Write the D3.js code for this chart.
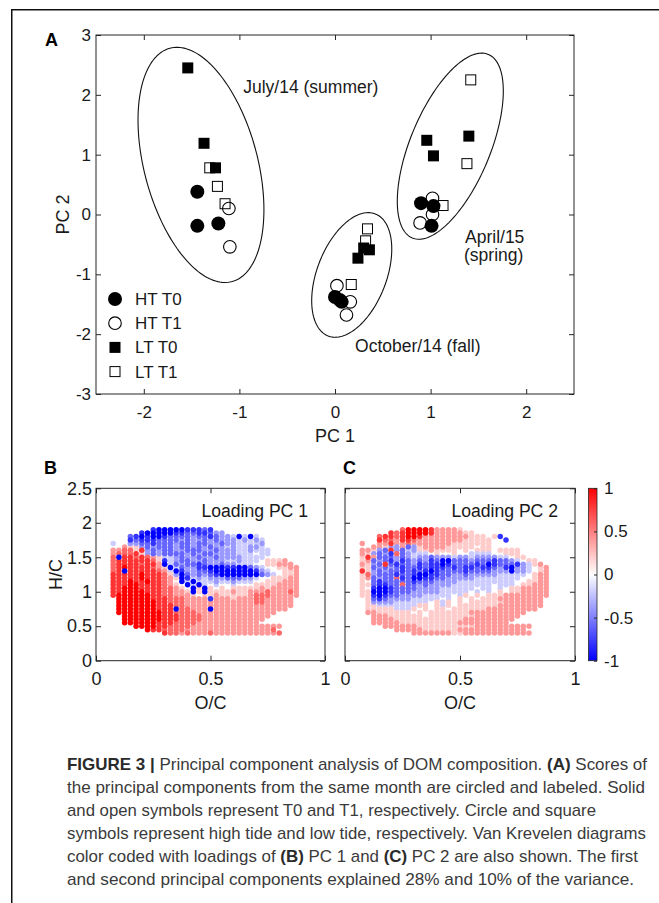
<!DOCTYPE html>
<html><head><meta charset="utf-8">
<script src="https://cdn.jsdelivr.net/npm/d3@7"></script>
<style>body{margin:0;background:#fff}svg{display:block}</style>
</head><body>
<svg id="fig" width="659" height="903"></svg>
<script>
// ---------------- DATA ----------------
// Panel A: PCA scores [PC1, PC2]
const htT0 = [[-1.44,0.38],[-1.44,-0.19],[-1.22,-0.15],[0.90,0.19],[1.03,0.14],[1.01,-0.19],[0.00,-1.38],[0.05,-1.43],[0.07,-1.46]];
const htT1 = [[-1.11,0.10],[-1.10,-0.54],[1.02,0.27],[1.02,0.00],[0.89,-0.14],[0.02,-1.19],[0.16,-1.46],[0.12,-1.68]];
const ltT0 = [[-1.54,2.45],[-1.37,1.19],[-1.25,0.78],[0.96,1.24],[1.03,0.98],[1.40,1.31],[0.36,-0.59],[0.30,-0.56],[0.24,-0.73]];
const ltT1 = [[-1.31,0.78],[-1.23,0.47],[-1.15,0.18],[1.42,2.25],[1.38,0.85],[1.13,0.15],[0.34,-0.24],[0.32,-0.44],[0.17,-1.17]];
const legendLabels = ["HT T0","HT T1","LT T0","LT T1"];
// month groups: centre and conjugate semi-diameters (data units)
const monthEllipses = [
  {label:["July/14 (summer)"], cx:-1.402, cy:0.829, ux:-0.3245, uy:1.950, vx:0.573, vy:0.2437},
  {label:["April/15","(spring)"], cx:1.206, cy:1.142, ux:0.3975, uy:1.534, vx:0.3866, vy:-0.256},
  {label:["October/14 (fall)"], cx:0.175, cy:-1.01, ux:0.2463, uy:1.020, vx:0.3387, vy:-0.2089}
];
const monthLabelPos = [[-0.96,2.03],[1.36,-0.47],[0.21,-2.30]];
const pcXTicks = [-2,-1,0,1,2];
const pcYTicks = [-3,-2,-1,0,1,2,3];

// Panels B, C: Van Krevelen grid (O/C columns, H/C rows), loadings
const ocCols = [0.05,0.075,0.1,0.125,0.15,0.175,0.2,0.225,0.25,0.275,0.3,0.325,0.35,0.375,0.4,0.425,0.45,0.475,0.5,0.525,0.55,0.575,0.6,0.625,0.65,0.675,0.7,0.725,0.75,0.775,0.8,0.825,0.85,0.875];
const hcRows = [1.9,1.85,1.8,1.75,1.7,1.65,1.6,1.55,1.5,1.45,1.4,1.35,1.3,1.25,1.2,1.15,1.1,1.05,1.0,0.95,0.9,0.85,0.8,0.75,0.7,0.65,0.6,0.55,0.5,0.45,0.4];
const loadingLevels = {a:-1,b:-0.8,c:-0.6,d:-0.4,e:-0.2,f:0,g:0.2,h:0.4,i:0.6,j:0.8,k:1};
const loadingPC1 = [
"........baaaaabbbcb...............",
"......baaaaabbccbbcdd.............",
"....cbabaabccccdccbcddeaeae.......",
"....bcbbbccccdcddcdcdddedede......",
".e..ddccbcccdccdccddcddeeeed......",
"...hggdcdcccdccdcdcddedeedde......",
".hhiigjdcdccddcccddcdddeedeee.....",
".hiiijgdcdccccdcdccddddeeefee.....",
".iajjijihgeedcddcddcddddeeeeff....",
".ijjjjjjigbedccddcdddeedeeefgggh..",
".ijjjjijjhaecdccbcddcddeeeffgghhh.",
".ijkjjjjihgaecddbbaaabbaacdeffgghh",
".ijajjjjjiheabddccbaaaaaaabdeffggh",
".jjjjjkjjjigdacdcdcbaaaaaaacdefggh",
".jjjjjkjjjihgabededddcccddeffggghh",
".jjjkjjkjjihfaeaeeedeedeeeffggghhh",
".jjjkkjjjjihgfaeaefeffefffgggghhhh",
".jjkkkjjjjiihgfagagfgfggggghghhhhh",
".jjkkkkjjjiihhgagagggghgghhhihhhih",
".jkkkkkkjjiihhhgfgghggggghiiihhhhh",
"..kkkkkkjjjiiihhhhbhhhghhhiihhhhh.",
"..kkkkkkkjjiiihhhhhhhhhhhhiihhhhh.",
"..kkkkkkkjjjiihhhhhhhhhhhhhhhhhhh.",
"..kkkkkkkjjjaiihhhahhhhhhhhhhhhh..",
"..kkkkkkkkjjiiiihhhhhhhhhhhhhh....",
"...kkkkkkkjjjiiiihhhhhhhhhhhh.....",
"...kkkkkkkjjjiiiihhhhhhhhhhh......",
"...kkkkkkjjjiiiihhhhhhhhhhh.......",
".....kkkkjjiiiihhhhhhhhhhhhhhhh...",
".......kjjiiiihhhhhhhhhhhhhhhi....",
"..........jiihihhhihhhhhhhhhhhi..."];
const loadingPC2 = [
"........ikkkkjhhhhg...............",
"......jijkkkkjhhhhhgg.............",
"....ijjijkkjhhhhhhhhgggfgbf.......",
"....jiihjjihhhhhhhhgggggffbf......",
".h..hhjhhihhhhhhhgggggggffff......",
"...hhgddhcdghhhhgggggfggffff......",
".hhgdcjdcedgghggggfgfgggfgggg.....",
".hgdcdbicdeeefgffgffeeeeffggg.....",
".gjhcccdcdeddcdddeddeddddeefgg....",
".ghcdcbdbcdcdbcaacccdcccbccdefgg..",
".hgdcjcbccdbcbbabccccbcabcccbdegh.",
".ggcdcdcbccbcbbbcbcbbcbbcdbaddefgh",
".jgdcdccbcbcbabccccbccccdddaddefgh",
".gidcccbccbaabbccddcdddddeeeeefghh",
".ghcdccibcaabbccdddddeeeeeeeeffghh",
".gfcbcccccbcccddddeeeeeeeeeeffgghh",
".ggcbbcciccdcddddeeeeeeefeeefgghhh",
".gfbaabccccddddeeeeeefeefefgghhhhh",
".ggaaabcccdddddeeeeefefefgfgghhhhh",
".ggbabccddddeeeeefegfgfggghhhhhhhh",
"..gcbcddddeeeeefefgfgfggghhhhhhhh.",
"..gddddeeeeeefgegfgfgggggghhhhhhh.",
"..ggeeeeeeeggfgegfggggggghhhhhhhh.",
"..gggggeeegfgfggfgggggghhhhhhhhh..",
"..hhggggggfgfggggggghhhhhhhhhh....",
"...hhhggggggfgggggggghhhhhhhh.....",
"...hhhhgggggggggggghhhhhhhhh......",
"...hhhhhgggggggggghhhhhhhhh.......",
".....hhhhhhgggggggggghhhhhhhhhh...",
".......hhhhhgggggghhhhhhhhhhhh....",
"..........hhhhhhhgghhhhhhhhhhhh..."];
const vkXTicks = [0,0.5,1];
const vkYTicks = [0,0.5,1,1.5,2,2.5];
const cbTicks = [-1,-0.5,0,0.5,1];

const captionLines = [
  [["FIGURE 3 |",1],[" Principal component analysis of DOM composition. ",0],["(A)",1],[" Scores of",0]],
  [["the principal components from the same month are circled and labeled. Solid",0]],
  [["and open symbols represent T0 and T1, respectively. Circle and square",0]],
  [["symbols represent high tide and low tide, respectively. Van Krevelen diagrams",0]],
  [["color coded with loadings of ",0],["(B)",1],[" PC 1 and ",0],["(C)",1],[" PC 2 are also shown. The first",0]],
  [["and second principal components explained 28% and 10% of the variance.",0]]
];
const captionWidths = [580,578,529,579,571,567];

// ---------------- DRAWING ----------------
const FONT = "'Liberation Sans', Arial, Helvetica, sans-serif";
const INK = "#1a1a1a";
const AX = "#262626";
const svg = d3.select("#fig");

// outer frame
svg.append("path").attr("d","M11.75,903 V9.75 H659").attr("fill","none").attr("stroke","#111").attr("stroke-width",1.5);

function axesBox(g, x, y, xt, yt, yLabels, fs, ypad) {
  const [x0,x1] = x.range(), [yb,yt0] = y.range();
  const fmt = d => String(d);
  g.append("g").attr("transform",`translate(0,${yb})`)
    .call(d3.axisBottom(x).tickValues(xt).tickSizeInner(-5).tickSizeOuter(0).tickPadding(12).tickFormat(fmt));
  g.append("g").attr("transform",`translate(0,${yt0})`)
    .call(d3.axisTop(x).tickValues(xt).tickSizeInner(-5).tickSizeOuter(0).tickFormat(""));
  g.append("g").attr("transform",`translate(${x0},0)`)
    .call(d3.axisLeft(y).tickValues(yt).tickSizeInner(-5).tickSizeOuter(0).tickPadding(ypad).tickFormat(yLabels ? fmt : ""));
  g.append("g").attr("transform",`translate(${x1},0)`)
    .call(d3.axisRight(y).tickValues(yt).tickSizeInner(-5).tickSizeOuter(0).tickFormat(""));
  g.selectAll(".domain").remove();
  g.selectAll(".tick line").attr("stroke",AX).attr("stroke-width",1);
  g.selectAll(".tick text").attr("font-size",fs).attr("font-family",FONT).attr("fill",INK);
  g.append("rect").attr("x",x0).attr("y",yt0).attr("width",x1-x0).attr("height",yb-yt0)
    .attr("fill","none").attr("stroke",AX).attr("stroke-width",1);
}

// ---- Panel A ----
const xA = d3.scaleLinear().domain([-2.5,2.5]).range([96,574]);
const yA = d3.scaleLinear().domain([-3,3]).range([394,35]);
const gA = svg.append("g");
axesBox(gA, xA, yA, pcXTicks, pcYTicks, true, 17, 5);

const tSteps = d3.range(0, 2*Math.PI + 0.0001, Math.PI/90);
const lineA = d3.line().x(p => xA(p[0])).y(p => yA(p[1])).curve(d3.curveLinearClosed);
monthEllipses.forEach(e => {
  const pts = tSteps.map(t => [e.cx + e.ux*Math.cos(t) + e.vx*Math.sin(t), e.cy + e.uy*Math.cos(t) + e.vy*Math.sin(t)]);
  gA.append("path").attr("d", lineA(pts)).attr("fill","none").attr("stroke","#111").attr("stroke-width",1.1);
});
monthEllipses.forEach((e,i) => {
  const t = gA.append("text").attr("x", xA(monthLabelPos[i][0])).attr("y", yA(monthLabelPos[i][1]))
    .attr("font-family",FONT).attr("font-size",17.5).attr("fill",INK);
  e.label.forEach((s,j) => t.append("tspan").attr("x", xA(monthLabelPos[i][0]) - (j? 1:0)).attr("dy", j ? 18 : 0).text(s));
});

function drawMarkers(g, data, type, xs, ys) {
  if (type === "fc") g.selectAll(null).data(data).join("circle").attr("cx",d=>xs(d[0])).attr("cy",d=>ys(d[1])).attr("r",7).attr("fill","#000");
  if (type === "oc") g.selectAll(null).data(data).join("circle").attr("cx",d=>xs(d[0])).attr("cy",d=>ys(d[1])).attr("r",6.3).attr("fill","none").attr("stroke","#000").attr("stroke-width",1.1);
  if (type === "fs") g.selectAll(null).data(data).join("rect").attr("x",d=>xs(d[0])-5.5).attr("y",d=>ys(d[1])-5.5).attr("width",11).attr("height",11).attr("fill","#000");
  if (type === "os") g.selectAll(null).data(data).join("rect").attr("x",d=>xs(d[0])-5).attr("y",d=>ys(d[1])-5).attr("width",10).attr("height",10).attr("fill","none").attr("stroke","#000").attr("stroke-width",1);
}
const mk = gA.append("g");
drawMarkers(mk, htT1, "oc", xA, yA);
drawMarkers(mk, ltT1, "os", xA, yA);
drawMarkers(mk, htT0, "fc", xA, yA);
drawMarkers(mk, ltT0, "fs", xA, yA);

// legend
const legTypes = ["fc","oc","fs","os"];
const leg = gA.append("g").attr("transform","translate(115,299)");
const idScale = d3.scaleLinear().domain([0,1]).range([0,1]);
legendLabels.forEach((lab,i) => {
  const row = leg.append("g").attr("transform",`translate(0,${i*24.2})`);
  drawMarkers(row, [[0,0]], legTypes[i], idScale, idScale);
  row.append("text").attr("x",20).attr("y",6).attr("font-family",FONT).attr("font-size",17).attr("fill",INK).text(lab);
});

gA.append("text").attr("x",45).attr("y",46).attr("font-family",FONT).attr("font-weight","bold").attr("font-size",18).attr("fill","#000").text("A");
gA.append("text").attr("x",335).attr("y",442).attr("text-anchor","middle").attr("font-family",FONT).attr("font-size",18).attr("fill",INK).text("PC 1");
gA.append("text").attr("transform","translate(69,214.5) rotate(-90)").attr("text-anchor","middle").attr("font-family",FONT).attr("font-size",18).attr("fill",INK).text("PC 2");

// ---- Panels B, C ----
const color = d3.scaleLinear().domain([-1,0,1]).range(["#0000ff","#ffffff","#ff0000"]);
function buildPoints(rows) {
  const pts = [];
  rows.forEach((row,i) => {
    for (let k = 0; k < row.length; k++) {
      const c = row[k];
      if (c === "." || !(c in loadingLevels)) continue;
      pts.push({oc: ocCols[k], hc: hcRows[i], v: loadingLevels[c]});
    }
  });
  return pts.sort((a,b) => Math.abs(a.v) - Math.abs(b.v));
}
const yVK = d3.scaleLinear().domain([0,2.5]).range([660.7,488.3]);
function vkPanel(x0, x1, rows, title, letter, letterX, yLabels) {
  const x = d3.scaleLinear().domain([0,1]).range([x0,x1]);
  const g = svg.append("g");
  g.append("g").selectAll("circle").data(buildPoints(rows)).join("circle")
    .attr("cx", d => x(d.oc)).attr("cy", d => yVK(d.hc)).attr("r",2.75).attr("fill", d => color(d.v));
  axesBox(g, x, yVK, vkXTicks, vkYTicks, yLabels, 18, 4);
  g.append("text").attr("x", x1-17).attr("y",517).attr("text-anchor","end").attr("font-family",FONT).attr("font-size",17.6).attr("fill",INK).text(title);
  g.append("text").attr("x",(x0+x1)/2).attr("y",709).attr("text-anchor","middle").attr("font-family",FONT).attr("font-size",18).attr("fill",INK).text("O/C");
  g.append("text").attr("x",letterX).attr("y",474).attr("font-family",FONT).attr("font-weight","bold").attr("font-size",18).attr("fill","#000").text(letter);
  return g;
}
const gB = vkPanel(96, 325, loadingPC1, "Loading PC 1", "B", 44, true);
gB.append("text").attr("transform","translate(62,574.5) rotate(-90)").attr("text-anchor","middle").attr("font-family",FONT).attr("font-size",18).attr("fill",INK).text("H/C");
vkPanel(345, 575, loadingPC2, "Loading PC 2", "C", 343, false);

// colorbar
const defs = svg.append("defs");
const grad = defs.append("linearGradient").attr("id","cb").attr("x1",0).attr("y1",1).attr("x2",0).attr("y2",0);
cbTicks.forEach(v => grad.append("stop").attr("offset",(v+1)/2).attr("stop-color",color(v)));
const yCB = d3.scaleLinear().domain([-1,1]).range([660.7,488.3]);
const cb = svg.append("g");
cb.append("rect").attr("x",588.5).attr("y",yCB(1)).attr("width",8.5).attr("height",yCB(-1)-yCB(1)).attr("fill","url(#cb)").attr("stroke",AX).attr("stroke-width",0.8);
cb.append("g").attr("transform","translate(597,0)")
  .call(d3.axisRight(yCB).tickValues(cbTicks).tickSizeInner(-3).tickSizeOuter(0).tickPadding(7).tickFormat(d => String(d)))
  .call(s => s.select(".domain").remove())
  .call(s => s.selectAll(".tick line").attr("stroke",AX))
  .call(s => s.selectAll(".tick text").attr("font-size",17).attr("font-family",FONT).attr("fill",INK));

// caption
const cap = svg.append("g");
captionLines.forEach((parts,i) => {
  const t = cap.append("text").attr("x",67).attr("y",770 + i*23).attr("font-family",FONT).attr("font-size",17)
    .attr("fill","#3a3a3a").attr("textLength",captionWidths[i]).attr("lengthAdjust","spacingAndGlyphs");
  parts.forEach(p => t.append("tspan").attr("font-weight", p[1] ? "bold" : "normal").attr("fill", p[1] ? "#2a2a2a" : "#3a3a3a").text(p[0]));
});
</script>
</body></html>
